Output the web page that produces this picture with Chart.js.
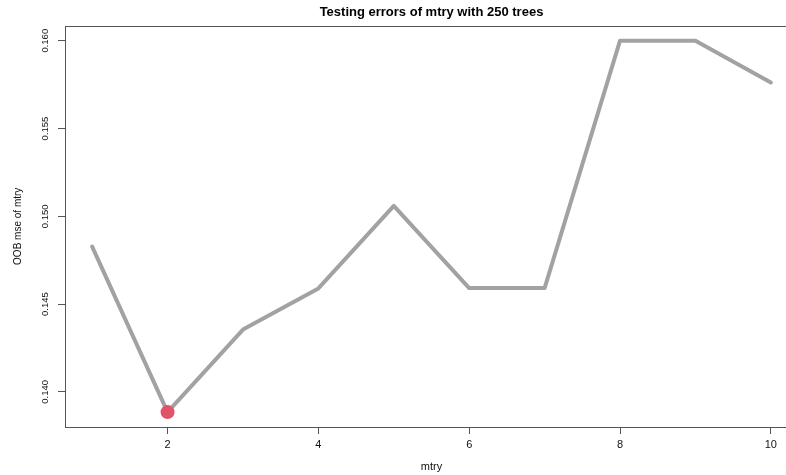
<!DOCTYPE html>
<html>
<head>
<meta charset="utf-8">
<script src="https://cdn.jsdelivr.net/npm/chart.js@4/dist/chart.umd.min.js"></script>
<style>
  html, body { margin: 0; padding: 0; background: #ffffff; overflow: hidden; }
  #wrap { width: 800px; height: 475px; position: relative; }
</style>
</head>
<body>
<div id="wrap"><canvas id="c" width="800" height="475"></canvas></div>
<script>
// ---- data ----
const mtry = [1, 2, 3, 4, 5, 6, 7, 8, 9, 10];
const oobErr = [0.14827, 0.13885, 0.14355, 0.14589, 0.15059, 0.14591, 0.14591, 0.16000, 0.16000, 0.15762];
const xTicks = [2, 4, 6, 8, 10];
const yTicks = [0.140, 0.145, 0.150, 0.155, 0.160];
const yTickLabels = ['0.140', '0.145', '0.150', '0.155', '0.160'];
const chartTitle = 'Testing errors of mtry with 250 trees';
const xTitle = 'mtry';
const yTitle = 'OOB mse of mtry';

const FONT = '"Liberation Sans", Arial, Helvetica, sans-serif';
const bestIdx = oobErr.indexOf(Math.min(...oobErr));

const linePts = mtry.map((m, i) => ({ x: m, y: oobErr[i] }));
const bestPt = [{ x: mtry[bestIdx], y: oobErr[bestIdx] }];

const boxPlugin = {
  id: 'rbox',
  afterDraw(chart) {
    const { ctx, chartArea: a, scales } = chart;
    ctx.save();
    ctx.strokeStyle = '#555555';
    ctx.lineWidth = 1;
    ctx.strokeRect(Math.round(a.left) + 0.5, Math.round(a.top) + 0.5,
                   Math.round(a.right - a.left), Math.round(a.bottom - a.top));
    // y tick labels, rotated as in R (las = 0)
    const ys = scales.y;
    ctx.fillStyle = '#111111';
    ctx.font = '9.5px ' + FONT;
    ctx.textAlign = 'center';
    ctx.textBaseline = 'middle';
    yTicks.forEach((v, i) => {
      const py = ys.getPixelForValue(v);
      ctx.save();
      ctx.translate(45, py);
      ctx.rotate(-Math.PI / 2);
      ctx.fillText(yTickLabels[i], 0, 0);
      ctx.restore();
    });
    ctx.restore();
  }
};

new Chart(document.getElementById('c'), {
  type: 'line',
  data: {
    datasets: [
      {
        data: bestPt,
        showLine: false,
        pointRadius: 7,
        pointHoverRadius: 7,
        pointBackgroundColor: '#DF536B',
        pointBorderColor: '#DF536B',
        pointBorderWidth: 0,
        order: 0
      },
      {
        data: linePts,
        borderColor: '#A2A2A2',
        borderWidth: 4,
        pointRadius: 0,
        tension: 0,
        borderCapStyle: 'round',
        borderJoinStyle: 'round',
        fill: false,
        order: 1
      }
    ]
  },
  options: {
    responsive: false,
    animation: false,
    devicePixelRatio: 1,
    layout: { autoPadding: false, padding: { left: 0, right: 2, top: 0, bottom: 0 } },
    plugins: {
      legend: { display: false },
      tooltip: { enabled: false },
      title: {
        display: true,
        text: chartTitle,
        fullSize: false,
        color: '#000000',
        font: { family: FONT, size: 13, weight: 'bold' },
        padding: { top: 5, bottom: 5 }
      }
    },
    scales: {
      x: {
        type: 'linear',
        min: 0.64,
        max: 10.36,
        afterBuildTicks: (s) => { s.ticks = xTicks.map(v => ({ value: v })); },
        afterFit: (s) => { s.height = 48; s.paddingLeft = 0; s.paddingRight = 0; },
        ticks: {
          color: '#111111',
          font: { family: FONT, size: 11 },
          padding: 4,
          maxRotation: 0,
          minRotation: 0,
          callback: (v) => String(v)
        },
        grid: {
          display: true,
          drawOnChartArea: false,
          drawTicks: true,
          tickLength: 7,
          tickColor: '#555555',
          tickWidth: 1
        },
        border: { display: false },
        title: {
          display: true,
          text: xTitle,
          color: '#111111',
          font: { family: FONT, size: 11 },
          padding: { top: 0, bottom: 1.5 }
        }
      },
      y: {
        type: 'linear',
        min: 0.1380,
        max: 0.16086,
        afterBuildTicks: (s) => { s.ticks = yTicks.map(v => ({ value: v })); },
        afterFit: (s) => { s.width = 65; s.paddingTop = 0; s.paddingBottom = 0; },
        ticks: { display: false },
        grid: {
          display: true,
          drawOnChartArea: false,
          drawTicks: true,
          tickLength: 7,
          tickColor: '#555555',
          tickWidth: 1
        },
        border: { display: false },
        title: {
          display: true,
          text: yTitle,
          color: '#111111',
          font: { family: FONT, size: 10 },
          padding: { top: 12, bottom: 0 }
        }
      }
    }
  },
  plugins: [boxPlugin]
});
</script>
</body>
</html>
